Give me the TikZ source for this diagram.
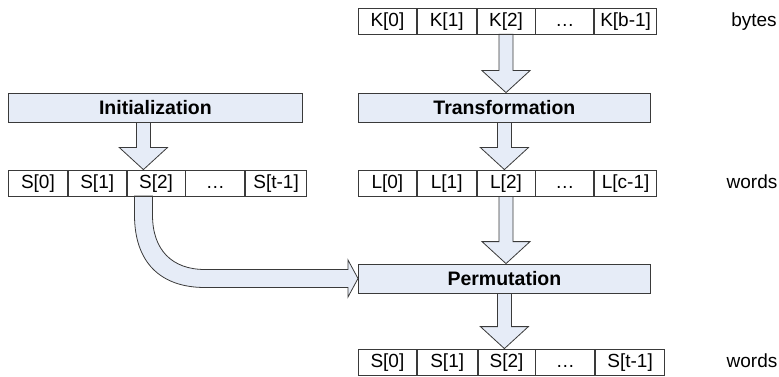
\documentclass[tikz,border=0pt]{standalone}
\usepackage{fontspec}
\setmainfont{Liberation Sans}
\usetikzlibrary{calc}
\definecolor{fillc}{HTML}{E6ECF7}
\definecolor{linec}{HTML}{3A3A3A}
\pgfdeclarelayer{bg}
\pgfsetlayers{bg,main}
\newcommand\fatdown[3][0pt]{%
  \draw[fat] let \p1=(#2.south), \p2=(#3.north) in
    (\x1+#1-7pt,\y1) -- (\x1+#1-7pt,\y2+22pt) -- (\x1+#1-24pt,\y2+22pt) --
    (\x1+#1,\y2) -- (\x1+#1+24pt,\y2+22pt) -- (\x1+#1+7pt,\y2+22pt) --
    (\x1+#1+7pt,\y1) -- cycle;}
\begin{document}
\begin{tikzpicture}[x=1pt,y=-1pt,
  cell/.style={draw=linec, line width=0.8pt, minimum height=26pt, inner sep=0pt,
    text height=14pt, text depth=3pt,
    font=\fontsize{19}{22}\selectfont, anchor=west},
  bar/.style={draw=linec, fill=fillc, line width=0.8pt, minimum height=29pt,
    inner sep=0pt, text height=14pt, text depth=0.5pt,
    font=\bfseries\fontsize{19.5}{22}\selectfont, anchor=west},
  fat/.style={draw=linec, fill=fillc, line width=0.8pt, line join=miter},
  lbl/.style={font=\fontsize{19}{22}\selectfont, inner sep=0pt,
    text height=14pt, text depth=3pt}]
\useasboundingbox (0,0) rectangle (779,377);

% K row
\node[cell, minimum width=58pt] (k0) at (358,21) {K[0]};
\node[cell, minimum width=59pt] (k1) at (k0.east) {K[1]};
\node[cell, minimum width=58pt] (k2) at (k1.east) {K[2]};
\node[cell, minimum width=58pt] (k3) at (k2.east) {…};
\node[cell, minimum width=62pt] (k4) at (k3.east) {K[b-1]};
\node[lbl] (bytes) at (754,21) {bytes};

% boxes
\node[bar, minimum width=294pt] (init) at (8,107.5) {Initialization};
\node[bar, minimum width=292pt] (trans) at (358,107.5) {Transformation};

% S row (left)
\node[cell, minimum width=59pt] (s0) at (8,183) {S[0]};
\node[cell, minimum width=58pt] (s1) at (s0.east) {S[1]};
\node[cell, minimum width=58pt] (s2) at (s1.east) {S[2]};
\node[cell, minimum width=59pt] (s3) at (s2.east) {…};
\node[cell, minimum width=61pt] (s4) at (s3.east) {S[t-1]};

% L row
\node[cell, minimum width=58pt] (l0) at (358,183) {L[0]};
\node[cell, minimum width=59pt] (l1) at (l0.east) {L[1]};
\node[cell, minimum width=58pt] (l2) at (l1.east) {L[2]};
\node[cell, minimum width=58pt] (l3) at (l2.east) {…};
\node[cell, minimum width=62pt] (l4) at (l3.east) {L[c-1]};
\node[lbl] (words1) at (752,183) {words};

% Permutation
\node[bar, minimum width=292pt] (perm) at (358,278.5) {Permutation};

% bottom S row
\node[cell, minimum width=58pt] (t0) at (358,362) {S[0]};
\node[cell, minimum width=60pt] (t1) at (t0.east) {S[1]};
\node[cell, minimum width=57pt] (t2) at (t1.east) {S[2]};
\node[cell, minimum width=59pt] (t3) at (t2.east) {…};
\node[cell, minimum width=69pt] (t4) at (t3.east) {S[t-1]};
\node[lbl] (words2) at (752,362) {words};

\coordinate (cstart) at (143.5,196);

\begin{pgfonlayer}{bg}
\fatdown{k2}{trans}
\fatdown[-12pt]{init}{s2}
\fatdown{trans}{l2}
\fatdown{l2}{perm}
\fatdown{perm}{t2}
\draw[fat] let \p1=(cstart), \p2=(perm.west) in
  (\x1-9pt,\y1) -- (\x1-9pt,\y1-19pt)
  .. controls (\x1-9pt,\y2+16.5pt) and (\x1+16.5pt,\y2-9pt) .. (\x1+61.5pt,\y2-9pt)
  -- (\x2-10pt,\y2-9pt) -- (\x2-10pt,\y2-18.5pt) -- (\x2,\y2)
  -- (\x2-10pt,\y2+18.5pt) -- (\x2-10pt,\y2+9pt) -- (\x1+61.5pt,\y2+9pt)
  .. controls (\x1+28.5pt,\y2+9pt) and (\x1+9pt,\y2+28.5pt) .. (\x1+9pt,\y1-19pt)
  -- (\x1+9pt,\y1) -- cycle;
\end{pgfonlayer}
\end{tikzpicture}
\end{document}
